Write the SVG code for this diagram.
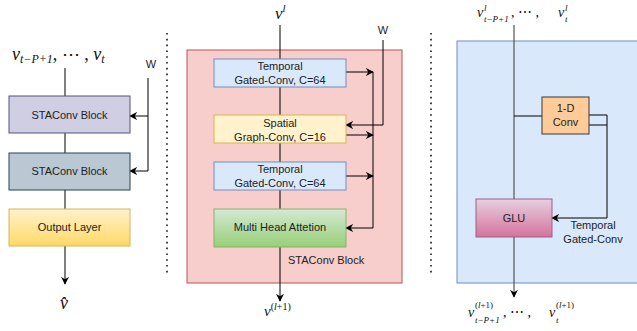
<svg xmlns="http://www.w3.org/2000/svg" width="637" height="331" viewBox="0 0 637 331">
  <style>
    .lbl { font-family: "Liberation Sans", Arial, sans-serif; font-size: 11px; fill: #222; text-anchor: middle; }
    .lbl-l { font-family: "Liberation Sans", Arial, sans-serif; font-size: 11px; fill: #222; }
    .math { font-family: "Liberation Serif", "Times New Roman", serif; font-style: italic; fill: #111; }
    .up { font-style: normal; }
    .s9 { font-size: 9px; }
    .s14 { font-size: 14px; }
    .wire { fill: none; stroke: #000; stroke-width: 1; }
    .wire-g { fill: none; stroke: #555; stroke-width: 1.2; }
    .dots { stroke: #444; stroke-width: 2; stroke-dasharray: 1.6 4.2; }
  </style>
  <defs>
    <marker id="arrow" viewBox="0 0 10 10" refX="9" refY="5" markerWidth="8" markerHeight="8" orient="auto" markerUnits="userSpaceOnUse">
      <path d="M0,0 L10,5 L0,10 L3,5 z" fill="#000"/>
    </marker>
    <linearGradient id="gYellow" x1="0" y1="0" x2="0" y2="1">
      <stop offset="0" stop-color="#fff2cc"/>
      <stop offset="1" stop-color="#ffd966"/>
    </linearGradient>
    <linearGradient id="gGreen" x1="0" y1="0" x2="0" y2="1">
      <stop offset="0" stop-color="#d5e8d4"/>
      <stop offset="1" stop-color="#97d077"/>
    </linearGradient>
    <linearGradient id="gPink" x1="0" y1="0" x2="0" y2="1">
      <stop offset="0" stop-color="#e6d0de"/>
      <stop offset="1" stop-color="#d5739d"/>
    </linearGradient>
  </defs>

  <!-- panel separators -->
  <line class="dots" x1="167" y1="33" x2="167" y2="274"/>
  <line class="dots" x1="431" y1="33" x2="431" y2="274"/>

  <!-- containers -->
  <g id="sta-block">
    <rect x="187" y="50" width="215" height="233" fill="#f8cecc" stroke="#b85450"/>
    <text class="lbl-l" x="288" y="264">STAConv Block</text>
  </g>
  <g id="tgc-block">
    <rect x="457" y="41" width="185" height="242" fill="#dae8fc" stroke="#6c8ebf"/>
  </g>

  <!-- connectors -->
  <g id="connectors">
    <!-- left column -->
    <path class="wire" d="M65,68 V96"/>
    <path class="wire" d="M65,133 V153"/>
    <path class="wire" d="M65,190 V209"/>
    <path class="wire" d="M65,246 V284" marker-end="url(#arrow)"/>
    <path class="wire" d="M148,78 V171 H130" marker-end="url(#arrow)"/>
    <path class="wire" d="M148,116 H130" marker-end="url(#arrow)"/>
    <!-- middle column -->
    <path class="wire" d="M280,25 V301" marker-end="url(#arrow)"/>
    <path class="wire" d="M346,72 H373" marker-end="url(#arrow)"/>
    <path class="wire" d="M346,135 H373" marker-end="url(#arrow)"/>
    <path class="wire" d="M346,176 H373" marker-end="url(#arrow)"/>
    <path class="wire" d="M373,72 V228 H346" marker-end="url(#arrow)"/>
    <path class="wire" d="M383,40 V125 H346" marker-end="url(#arrow)"/>
    <!-- right column -->
    <path class="wire-g" d="M514,25 V297" marker-end="url(#arrow)"/>
    <path class="wire" d="M514,116 H542"/>
    <path class="wire" d="M589,125 H607"/>
    <path class="wire" d="M589,115 H607 V218 H552" marker-end="url(#arrow)"/>
  </g>

  <!-- left column nodes -->
  <g id="in-left">
    <text class="math" x="12" y="60" font-size="18">v<tspan font-size="12" dy="3">t−P+1</tspan><tspan class="up" dy="-3">, ⋯  , </tspan>v<tspan font-size="12" dy="3">t</tspan></text>
  </g>
  <g id="w-left">
    <text class="lbl" x="151" y="68">W</text>
  </g>
  <g id="sta-1">
    <rect x="9" y="96" width="121" height="37" fill="#d0cee2" stroke="#56517e"/>
    <text class="lbl" x="69.5" y="119">STAConv Block</text>
  </g>
  <g id="sta-2">
    <rect x="9" y="153" width="121" height="37" fill="#bac8d3" stroke="#23445d"/>
    <text class="lbl" x="69.5" y="175">STAConv Block</text>
  </g>
  <g id="output-layer">
    <rect x="9" y="209" width="121" height="37" fill="url(#gYellow)" stroke="#d6b656"/>
    <text class="lbl" x="69.5" y="231">Output Layer</text>
  </g>
  <g id="out-left">
    <text class="math" x="60" y="309" font-size="18">v̂</text>
  </g>

  <!-- middle column nodes -->
  <g id="in-mid">
    <text class="math" x="275" y="19" font-size="17">v<tspan font-size="11" dy="-7">l</tspan></text>
  </g>
  <g id="w-mid">
    <text class="lbl" x="383" y="34">W</text>
  </g>
  <g id="tconv-1">
    <rect x="214" y="59" width="132" height="28" fill="#dae8fc" stroke="#6c8ebf"/>
    <text class="lbl" x="280" y="70">Temporal</text>
    <text class="lbl" x="280" y="84">Gated-Conv, C=64</text>
  </g>
  <g id="sconv">
    <rect x="214" y="115" width="132" height="28" fill="#fff2cc" stroke="#d6b656"/>
    <text class="lbl" x="280" y="127">Spatial</text>
    <text class="lbl" x="280" y="141">Graph-Conv, C=16</text>
  </g>
  <g id="tconv-2">
    <rect x="214" y="162" width="132" height="28" fill="#dae8fc" stroke="#6c8ebf"/>
    <text class="lbl" x="280" y="173">Temporal</text>
    <text class="lbl" x="280" y="187">Gated-Conv, C=64</text>
  </g>
  <g id="mha">
    <rect x="214" y="209" width="132" height="38" fill="url(#gGreen)" stroke="#82b366"/>
    <text class="lbl" x="280" y="231">Multi Head Attetion</text>
  </g>
  <g id="out-mid">
    <text class="math" x="264" y="316" font-size="15">v<tspan class="up" font-size="10" dy="-6">(</tspan><tspan font-size="10">l</tspan><tspan class="up" font-size="10">+1)</tspan></text>
  </g>

  <!-- right column nodes: base letters, upper and lower indices set apart -->
  <g id="in-right">
    <text class="math s14" x="477" y="17">v</text>
    <text class="math s9" x="484" y="10.5">l</text>
    <text class="math s9" x="484" y="21.5">t−P+1</text>
    <text class="math s14" x="511" y="17"><tspan class="up">, ⋯ , </tspan></text>
    <text class="math s14" x="558" y="17">v</text>
    <text class="math s9" x="565" y="10.5">l</text>
    <text class="math s9" x="565" y="21.5">t</text>
  </g>
  <g id="conv1d">
    <rect x="542" y="97" width="47" height="37" fill="#ffcc99" stroke="#36393d"/>
    <text class="lbl" x="565.5" y="112">1-D</text>
    <text class="lbl" x="565.5" y="126">Conv</text>
  </g>
  <g id="glu">
    <rect x="476" y="199" width="76" height="38" fill="url(#gPink)" stroke="#996185"/>
    <text class="lbl" x="514" y="222">GLU</text>
  </g>
  <g id="tgc-label">
    <text class="lbl" x="593" y="229">Temporal</text>
    <text class="lbl" x="593" y="243">Gated-Conv</text>
  </g>
  <g id="out-right">
    <text class="math s14" x="468" y="317">v</text>
    <text class="math s9" x="475" y="308"><tspan class="up">(</tspan>l<tspan class="up">+1)</tspan></text>
    <text class="math s9" x="475" y="323">t−P+1</text>
    <text class="math s14" x="503" y="317"><tspan class="up">, ⋯ , </tspan></text>
    <text class="math s14" x="549" y="317">v</text>
    <text class="math s9" x="556" y="308"><tspan class="up">(</tspan>l<tspan class="up">+1)</tspan></text>
    <text class="math s9" x="556" y="323">t</text>
  </g>
</svg>
